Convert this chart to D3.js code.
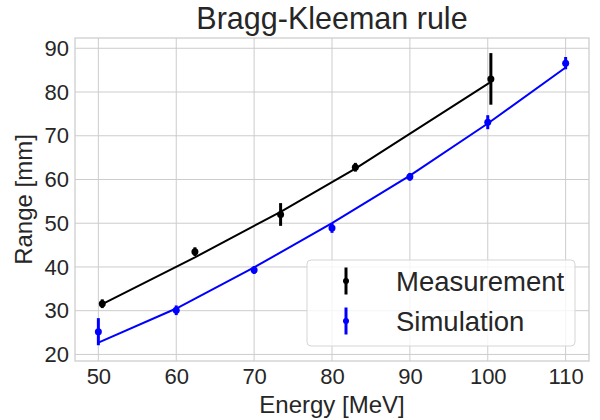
<!DOCTYPE html>
<html>
<head>
<meta charset="utf-8">
<script src="https://cdn.jsdelivr.net/npm/d3@7"></script>
<style>
  body { margin: 0; background: #fff; }
  text { font-family: "Liberation Sans", Arial, sans-serif; fill: #262626; }
</style>
</head>
<body>
<svg id="chart" width="600" height="420"></svg>
<script>
// measured ranges (black)
let measEnergy = [50.5, 62.4, 73.4, 83.0, 100.4];
let measRange = [31.6, 43.5, 52.0, 62.8, 83.0];
let measErr = [1.0, 1.0, 2.6, 1.0, 5.9];
let measFit = [31.5, 42.2, 52.6, 62.5, 82.3];

// simulated ranges (blue)
let simEnergy = [50, 60, 70, 80, 90, 100, 110];
let simRange = [25.2, 30.1, 39.3, 48.9, 60.6, 73.1, 86.6];
let simErr = [3.1, 1.1, 0.9, 1.1, 0.9, 1.6, 1.4];
let simFit = [22.7, 30.5, 39.9, 50.0, 60.9, 72.8, 85.6];

let xTicks = [50, 60, 70, 80, 90, 100, 110];
let yTicks = [20, 30, 40, 50, 60, 70, 80, 90];

let svg = d3.select("#chart");
let plotLeft = 75, plotRight = 589, plotTop = 38, plotBottom = 361;

let x = d3.scaleLinear().domain([47, 113]).range([plotLeft, plotRight]);
let y = d3.scaleLinear().domain([18.5, 92.35]).range([plotBottom, plotTop]);

// grid
svg.append("g").selectAll("line").data(xTicks).enter().append("line")
   .attr("x1", d => x(d)).attr("x2", d => x(d))
   .attr("y1", plotTop).attr("y2", plotBottom)
   .attr("stroke", "#cccccc").attr("stroke-width", 1);
svg.append("g").selectAll("line").data(yTicks).enter().append("line")
   .attr("x1", plotLeft).attr("x2", plotRight)
   .attr("y1", d => y(d)).attr("y2", d => y(d))
   .attr("stroke", "#cccccc").attr("stroke-width", 1);

// frame
svg.append("rect")
   .attr("x", plotLeft).attr("y", plotTop)
   .attr("width", plotRight - plotLeft).attr("height", plotBottom - plotTop)
   .attr("fill", "none").attr("stroke", "#cccccc").attr("stroke-width", 1.25);

// axes (labels only, no tick marks)
let xAxis = svg.append("g").attr("transform", `translate(0,${plotBottom})`)
   .call(d3.axisBottom(x).tickValues(xTicks).tickSize(0).tickPadding(7));
let yAxis = svg.append("g").attr("transform", `translate(${plotLeft},0)`)
   .call(d3.axisLeft(y).tickValues(yTicks).tickSize(0).tickPadding(6));
[xAxis, yAxis].forEach(function(a){
    a.select(".domain").remove();
    a.selectAll("text").style("font-size", "22px").attr("fill", "#262626")
     .style("font-family", "'Liberation Sans', Arial, sans-serif");
});
xAxis.selectAll("text").attr("dy", "0.72em");

// fit lines
let line = d3.line().x(d => x(d[0])).y(d => y(d[1]));
svg.append("path")
   .attr("d", line(d3.zip(measEnergy, measFit)))
   .attr("fill", "none").attr("stroke", "black").attr("stroke-width", 2);
svg.append("path")
   .attr("d", line(d3.zip(simEnergy, simFit)))
   .attr("fill", "none").attr("stroke", "blue").attr("stroke-width", 2);

// error bars with points
function errorBars(xs, ys, errs, colour){
    let g = svg.append("g");
    let data = d3.zip(xs, ys, errs);
    g.selectAll("line").data(data).enter().append("line")
     .attr("x1", d => x(d[0])).attr("x2", d => x(d[0]))
     .attr("y1", d => y(d[1] - d[2])).attr("y2", d => y(d[1] + d[2]))
     .attr("stroke", colour).attr("stroke-width", 3);
    g.selectAll("circle").data(data).enter().append("circle")
     .attr("cx", d => x(d[0])).attr("cy", d => y(d[1]))
     .attr("r", 3.5).attr("fill", colour);
}
errorBars(measEnergy, measRange, measErr, "black");
errorBars(simEnergy, simRange, simErr, "blue");

// title and axis labels
svg.append("text").attr("x", (plotLeft + plotRight) / 2).attr("y", 29)
   .attr("text-anchor", "middle").style("font-size", "30.5px")
   .text("Bragg-Kleeman rule");
svg.append("text").attr("x", (plotLeft + plotRight) / 2).attr("y", 413)
   .attr("text-anchor", "middle").style("font-size", "24px")
   .text("Energy [MeV]");
svg.append("text")
   .attr("transform", `translate(32,${(plotTop + plotBottom) / 2}) rotate(-90)`)
   .attr("text-anchor", "middle").style("font-size", "24px")
   .text("Range [mm]");

// legend
let legend = svg.append("g");
legend.append("rect")
   .attr("x", 307).attr("y", 260).attr("width", 268).attr("height", 86)
   .attr("rx", 4).attr("fill", "white").attr("fill-opacity", 0.8)
   .attr("stroke", "#d5d5d5").attr("stroke-width", 1);
let entries = [["Measurement", "black"], ["Simulation", "blue"]];
entries.forEach(function(e, i){
    let cy = 281 + i * 40;
    legend.append("line")
       .attr("x1", 346).attr("x2", 346).attr("y1", cy - 13.5).attr("y2", cy + 13.5)
       .attr("stroke", e[1]).attr("stroke-width", 3);
    legend.append("circle").attr("cx", 346).attr("cy", cy).attr("r", 3).attr("fill", e[1]);
    legend.append("text").attr("x", 396).attr("y", cy + 9.5)
       .style("font-size", "27.5px").text(e[0]);
});
</script>
</body>
</html>
